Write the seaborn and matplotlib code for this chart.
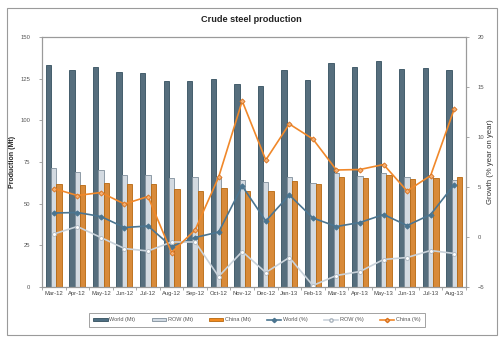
import numpy as np
import pandas as pd
import matplotlib
matplotlib.use("Agg")
import matplotlib.pyplot as plt
from matplotlib.patches import Patch, Rectangle
from matplotlib.lines import Line2D
import seaborn as sns

# Monthly crude steel production (Mt) and year-on-year growth (%)
months = ["Mar-12", "Apr-12", "May-12", "Jun-12", "Jul-12", "Aug-12", "Sep-12",
          "Oct-12", "Nov-12", "Dec-12", "Jan-13", "Feb-13", "Mar-13", "Apr-13",
          "May-13", "Jun-13", "Jul-13", "Aug-13"]
world_mt = [133.4, 130.4, 132.2, 129.2, 128.7, 123.5, 123.5, 124.9, 121.8,
            120.6, 129.9, 123.9, 134.5, 132.0, 135.5, 130.7, 131.4, 130.1]
row_mt = [71.5, 68.8, 70.2, 67.4, 67.4, 65.3, 65.9, 65.9, 64.2, 62.9, 66.0,
          62.5, 68.6, 66.6, 68.5, 66.0, 66.0, 64.1]
china_mt = [62.0, 61.4, 62.5, 61.6, 61.6, 58.7, 57.6, 59.2, 57.6, 57.4, 63.5,
            61.8, 66.1, 65.5, 67.1, 64.8, 65.4, 66.1]
world_pct = [2.4, 2.45, 2.05, 0.95, 1.1, -0.95, -0.05, 0.5, 5.1, 1.6, 4.2, 1.9,
             1.05, 1.45, 2.25, 1.15, 2.25, 5.25]
row_pct = [0.3, 1.05, -0.05, -1.15, -1.4, -0.5, -0.5, -3.95, -1.45, -3.55,
           -2.05, -4.85, -3.85, -3.45, -2.25, -2.05, -1.35, -1.65]
china_pct = [4.85, 4.15, 4.45, 3.3, 4.05, -1.55, 0.7, 6.0, 13.6, 7.7, 11.3, 9.8,
             6.7, 6.75, 7.25, 4.6, 6.15, 12.8]

bar_series = ["World (Mt)", "ROW (Mt)", "China (Mt)"]
bar_face = ["#4f6f83", "#d1dae3", "#f28a1f"]
bar_edge = ["#34505f", "#7f8e9b", "#b7670f"]
pct_names = ["World (%)", "ROW (%)", "China (%)"]
line_colors = ["#4b7590", "#c9d2da", "#f0882a"]

plt.rcParams["font.family"] = ["Liberation Sans", "DejaVu Sans"]

bars = pd.DataFrame({
    "month": np.repeat(months, 3),
    "series": bar_series * len(months),
    "value": np.ravel(np.column_stack([world_mt, row_mt, china_mt])),
})

fig = plt.figure(figsize=(5.03, 3.44), dpi=100)
fig.patch.set_facecolor("white")
ax = fig.add_axes([42 / 503, 1 - 287 / 344, (466 - 42) / 503, (287 - 37) / 344])

sns.barplot(data=bars, x="month", y="value", hue="series", hue_order=bar_series,
            palette=bar_face, width=0.68, gap=0, dodge=True, legend=False,
            linewidth=0.6, ax=ax)
for cont, ec in zip(ax.containers, bar_edge):
    for p in cont:
        p.set_edgecolor(ec)

ax.set_ylim(0, 150)
ax.set_yticks(np.arange(0, 151, 25))
ax.set_xlim(-0.5, len(months) - 0.5)
ax.set_xlabel("")
ax.set_ylabel("Production (Mt)", fontsize=5, fontweight="bold", color="#222222",
              labelpad=3)

ax2 = ax.twinx()
x = np.arange(len(months))
sns.lineplot(x=x, y=world_pct, ax=ax2, color=line_colors[0], lw=1.2,
             marker="D", markersize=2.6, markeredgecolor=line_colors[0])
sns.lineplot(x=x, y=row_pct, ax=ax2, color=line_colors[1], lw=1.2,
             marker="o", markersize=2.8, markerfacecolor="white",
             markeredgecolor="#aab4be", markeredgewidth=0.6)
sns.lineplot(x=x, y=china_pct, ax=ax2, color=line_colors[2], lw=1.2,
             marker="D", markersize=2.6, markerfacecolor="#f5b074",
             markeredgecolor="#d9701a", markeredgewidth=0.6)
ax2.set_ylim(-5, 20)
ax2.set_yticks(np.arange(-5, 21, 5))
ax2.set_ylabel("Growth (% year on year)", fontsize=5.6, color="#333333",
               labelpad=2)
ax2.set_xlim(-0.5, len(months) - 0.5)

ax.set_xticks(x)
ax.set_xticklabels(months)
ax.set_xticks(np.arange(-0.5, len(months), 1.0), minor=True)

for a in (ax, ax2):
    for s in a.spines.values():
        s.set_color("#9a9a9a")
        s.set_linewidth(0.8)
    a.tick_params(axis="y", labelsize=4.2, labelcolor="#555555", length=2.5,
                  width=0.6, color="#9a9a9a", pad=6)
ax.tick_params(axis="x", which="major", length=0, labelsize=4.2,
               labelcolor="#444444", pad=3)
ax.tick_params(axis="x", which="minor", length=2.5, width=0.6, color="#9a9a9a")
ax.grid(False)
ax2.grid(False)

fig.text(0.5, 1 - 20 / 344, "Crude steel production", ha="center", va="center",
         fontsize=6.6, fontweight="bold", color="#222222")

handles = [Patch(facecolor=bar_face[i], edgecolor=bar_edge[i], linewidth=0.6)
           for i in range(3)]
handles += [
    Line2D([], [], color=line_colors[0], lw=1.2, marker="D", markersize=2.2),
    Line2D([], [], color=line_colors[1], lw=1.2, marker="o", markersize=2.4,
           markerfacecolor="white", markeredgecolor="#aab4be"),
    Line2D([], [], color=line_colors[2], lw=1.2, marker="D", markersize=2.2,
           markerfacecolor="#f5b074", markeredgecolor="#d9701a"),
]
labels = bar_series + pct_names
leg = fig.legend(handles, labels, loc="center", ncol=6,
                 bbox_to_anchor=(257 / 503, 1 - 320 / 344), fontsize=4,
                 frameon=True, fancybox=False, handlelength=2.6,
                 handleheight=0.5, handletextpad=0.3, columnspacing=2.9,
                 borderpad=0.8, labelcolor="#555555")
leg.get_frame().set_edgecolor("#8a8a8a")
leg.get_frame().set_linewidth(0.7)

fig.patches.append(Rectangle((7 / 503, 1 - 335 / 344), 490 / 503, 327 / 344,
                             transform=fig.transFigure, fill=False,
                             edgecolor="#9a9a9a", linewidth=0.8))

fig.savefig("out.png", dpi=100, facecolor="white")
